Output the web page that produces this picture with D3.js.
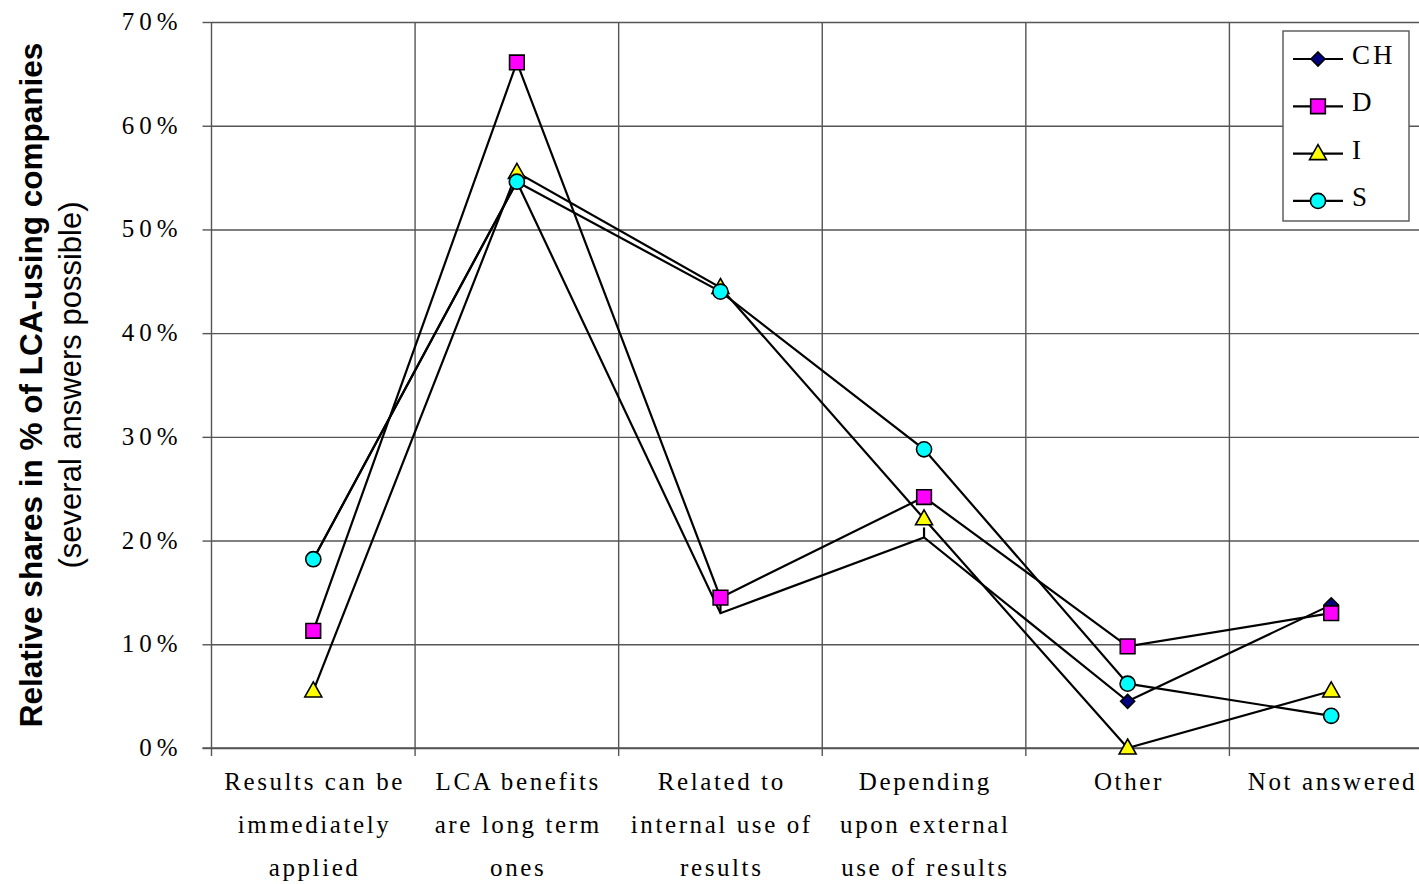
<!DOCTYPE html>
<html>
<head>
<meta charset="utf-8">
<script src="https://cdn.jsdelivr.net/npm/d3@7"></script>
<style>
  html, body { margin: 0; padding: 0; background: #fff; }
  svg { display: block; }
</style>
</head>
<body>
<svg id="chart" width="1419" height="884"></svg>
<script>
// ---------- data ----------
const categories = [
  "Results can be immediately applied",
  "LCA benefits are long term ones",
  "Related to internal use of results",
  "Depending upon external use of results",
  "Other",
  "Not answered"
];
const categoryLines = [
  ["Results can be", "immediately", "applied"],
  ["LCA benefits", "are long term", "ones"],
  ["Related to", "internal use of", "results"],
  ["Depending", "upon external", "use of results"],
  ["Other"],
  ["Not answered"]
];
const seriesNames = ["CH", "D", "I", "S"];
const chValues = [18.2, 54.6, 13.0, 20.3, 4.5, 13.8];
const dValues  = [11.3, 66.1, 14.5, 24.2, 9.8, 13.0];
const iValues  = [5.5, 55.5, 44.4, 22.1, 0.0, 5.5];
const sValues  = [18.2, 54.6, 44.0, 28.8, 6.2, 3.1];
// CH markers are not visible at these categories in the original (only a short stub shows)
const chHiddenMarkers = ["Related to internal use of results", "Depending upon external use of results"];
const yTicks = [0, 10, 20, 30, 40, 50, 60, 70];
const yTitle = "Relative shares in % of LCA-using companies";
const ySubtitle = "(several answers possible)";

// ---------- layout ----------
const svg = d3.select("#chart");
const pLeft = 211.5, pRight = 1433, pTop = 22, pBottom = 748;

const x = d3.scaleBand().domain(categories).range([pLeft, pRight]).paddingInner(0).paddingOuter(0);
const y = d3.scaleLinear().domain([0, 70]).range([pBottom, pTop]);
const cx = c => x(c) + x.bandwidth() / 2;

const gridColor = "#555";
const serif = "'Liberation Serif', 'Times New Roman', serif";
const sans = "'Liberation Sans', Arial, sans-serif";

// horizontal gridlines
const yGrid = svg.append("g")
  .attr("transform", `translate(${pLeft},0)`)
  .call(d3.axisLeft(y).tickValues(yTicks).tickSize(-(pRight - pLeft)).tickFormat(""));
yGrid.select(".domain").remove();
yGrid.selectAll("line").attr("stroke", gridColor).attr("stroke-width", 1.4);

// vertical gridlines at category boundaries (plus ticks below)
const boundaries = categories.slice(1).map(c => x(c));
svg.append("g").selectAll("line").data(boundaries).join("line")
  .attr("x1", d => d).attr("x2", d => d)
  .attr("y1", pTop).attr("y2", pBottom + 8)
  .attr("stroke", gridColor).attr("stroke-width", 1.4);

// y axis
const yAxis = svg.append("g")
  .attr("transform", `translate(${pLeft},0)`)
  .call(d3.axisLeft(y).tickValues(yTicks).tickSize(9).tickPadding(20).tickFormat(d => d + "%"));
yAxis.select(".domain").attr("stroke", gridColor).attr("stroke-width", 1.4)
  .attr("d", `M0,${pTop}V${pBottom + 8}`);
yAxis.selectAll("line").attr("stroke", gridColor).attr("stroke-width", 1.4);
yAxis.selectAll("text")
  .attr("font-family", serif).attr("font-size", 25).attr("fill", "#000")
  .attr("letter-spacing", "5px").attr("dy", "0.3em");

// x axis bottom line + category labels
svg.append("line").attr("x1", pLeft - 9).attr("x2", pRight).attr("y1", pBottom).attr("y2", pBottom)
  .attr("stroke", gridColor).attr("stroke-width", 1.4);

const xLab = svg.append("g").selectAll("text").data(categories).join("text")
  .attr("font-family", serif).attr("font-size", 25).attr("fill", "#000")
  .attr("letter-spacing", "2.6px")
  .attr("text-anchor", "middle");
xLab.each(function(c, i) {
  const t = d3.select(this);
  categoryLines[i].forEach((ln, j) => {
    t.append("tspan").attr("x", cx(c) + 1.3).attr("y", 790 + j * 43).text(ln);
  });
});

// y title
const tg = svg.append("g").attr("transform", `translate(42,${(pTop + pBottom) / 2}) rotate(-90)`);
tg.append("text").attr("text-anchor", "middle").attr("font-family", sans)
  .attr("font-weight", "bold").attr("font-size", 31.5).attr("fill", "#000").text(yTitle);
tg.append("text").attr("text-anchor", "middle").attr("font-family", sans)
  .attr("y", 39).attr("font-size", 31).attr("fill", "#000").text(ySubtitle);

// ---------- series ----------
const diamondPath = s => `M0,${-s}L${s},0L0,${s}L${-s},0Z`;
const markers = {
  CH: { fill: "#000080", path: diamondPath(7) },
  D:  { fill: "#FF00FF", path: d3.symbol(d3.symbolSquare, 215)() },
  I:  { fill: "#FFFF00", path: "M0,-9L8.5,6L-8.5,6Z" },
  S:  { fill: "#00FFFF", path: d3.symbol(d3.symbolCircle, 180)() }
};
const seriesValues = [chValues, dValues, iValues, sValues];

const line = d3.line()
  .x((d, i) => cx(categories[i]))
  .y(d => y(d));

seriesNames.forEach((name, si) => {
  const vals = seriesValues[si];
  const g = svg.append("g");
  g.append("path").attr("d", line(vals)).attr("fill", "none")
    .attr("stroke", "#000").attr("stroke-width", 2.2);
  const pts = vals.map((v, i) => ({ v, c: categories[i] }))
    .filter(p => !(name === "CH" && chHiddenMarkers.includes(p.c)));
  // short stubs where the CH marker is hidden
  if (name === "CH") {
    g.selectAll("line.stub").data(vals.map((v, i) => ({ v, c: categories[i] }))
      .filter(p => chHiddenMarkers.includes(p.c))).join("line").attr("class", "stub")
      .attr("x1", p => cx(p.c)).attr("x2", p => cx(p.c))
      .attr("y1", p => y(p.v)).attr("y2", p => y(p.v) - 10)
      .attr("stroke", "#000").attr("stroke-width", 2.2);
  }
  g.selectAll("path.m").data(pts).join("path").attr("class", "m")
    .attr("d", markers[name].path)
    .attr("transform", p => `translate(${cx(p.c)},${y(p.v)})`)
    .attr("fill", markers[name].fill).attr("stroke", "#000").attr("stroke-width", 1.6);
});

// ---------- legend ----------
const lg = svg.append("g");
lg.append("rect").attr("x", 1283).attr("y", 31).attr("width", 126).attr("height", 190)
  .attr("fill", "#fff").attr("stroke", gridColor).attr("stroke-width", 1.4);
seriesNames.forEach((name, i) => {
  const ly = 59 + i * 47.3;
  lg.append("line").attr("x1", 1293).attr("x2", 1343).attr("y1", ly).attr("y2", ly)
    .attr("stroke", "#000").attr("stroke-width", 2.2);
  lg.append("path").attr("d", markers[name].path).attr("transform", `translate(1318,${ly})`)
    .attr("fill", markers[name].fill).attr("stroke", "#000").attr("stroke-width", 1.6);
  lg.append("text").attr("x", 1352).attr("y", ly + 5)
    .attr("font-family", serif).attr("font-size", 27).attr("letter-spacing", "3px")
    .attr("fill", "#000").text(name);
});
</script>
</body>
</html>
